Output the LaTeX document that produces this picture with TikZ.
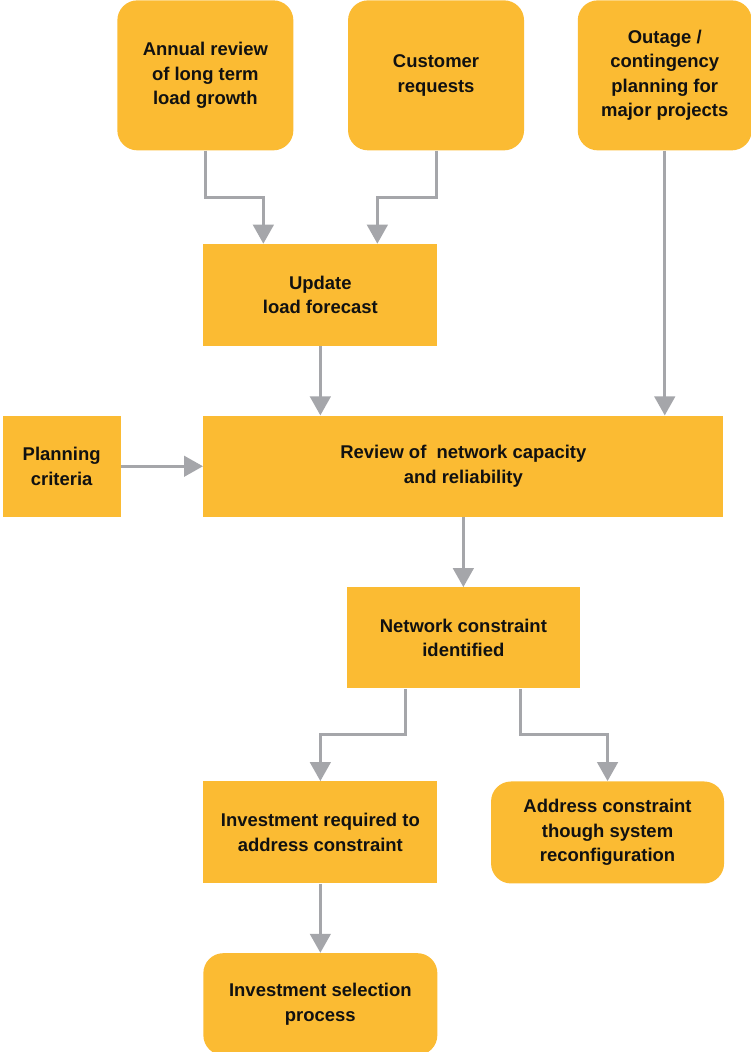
\documentclass[tikz,border=0pt]{standalone}
\usepackage{fontspec}
\setmainfont{Liberation Sans}
\usepackage{tikz}
\usetikzlibrary{arrows.meta,positioning,calc}
\usepackage{xcolor}
\definecolor{boxfill}{HTML}{FBBB33}
\definecolor{flow}{HTML}{A5A6AA}
\definecolor{ink}{HTML}{111111}
\tikzset{
  every node/.style={font=\fontsize{10.5}{13.9}\selectfont\bfseries,text=ink},
  box/.style={fill=boxfill,draw=none,minimum width=46.8mm,minimum height=20.4mm,align=center,inner sep=2pt},
  roundbox/.style={box,rounded corners=4mm},
  srcbox/.style={roundbox,minimum width=35.2mm,minimum height=30mm},
  arrow/.style={-{Triangle[width=4.1mm,length=3.8mm]},line width=0.6mm,draw=flow},
}

\begin{document}
\begin{tikzpicture}[node distance=10mm and 10mm]
\useasboundingbox (0,0) rectangle (150mm,-210.4mm);

% inputs
\node[srcbox,anchor=north west] (annual) at (23.4mm,0) {Annual review\\of long term\\load growth};
\node[srcbox,right=10.8mm of annual] (customer) {Customer\\requests};
\node[srcbox,minimum width=34.8mm,right=10.6mm of customer] (outage) {Outage /\\contingency\\planning for\\major projects};

\node[box,below=18.6mm of annual.south west,anchor=north west,xshift=17.2mm] (update) {Update\\load forecast};
\node[box,minimum width=104mm,minimum height=20.2mm,below=13.8mm of update.south west,anchor=north west] (review) {Review of ~network capacity\\and reliability};
\node[box,minimum width=23.6mm,minimum height=20.2mm,left=16.4mm of review] (criteria) {Planning\\criteria};

% outcomes
\node[box,minimum width=46.6mm,minimum height=20.2mm,below=14mm of review] (constraint) {Network constraint\\identified};
\node[box,below=52.8mm of review.south west,anchor=north west] (invest) {Investment required to\\address constraint};
\node[roundbox,minimum width=46.6mm,right=10.6mm of invest] (reconfig) {Address constraint\\though system\\reconfiguration};
\node[roundbox,below=13.8mm of invest] (select) {Investment selection\\process};

\draw[arrow] (annual.south) -- ++(0,-9.4mm) -| ([xshift=-11.4mm]update.north);
\draw[arrow] (customer.south) -- ++(0,-9.4mm) -| ([xshift=11.4mm]update.north);
\draw[arrow] (outage.south) -- (outage.south |- review.north);
\draw[arrow] (update.south) -- (review.north -| update.south);
\draw[arrow] (criteria.east) -- (review.west);
\draw[arrow] (review.south) -- (constraint.north);
\draw[arrow] ([xshift=-11.6mm]constraint.south) -- ++(0,-9.2mm) -| (invest.north);
\draw[arrow] ([xshift=11.4mm]constraint.south) -- ++(0,-9.2mm) -| (reconfig.north);
\draw[arrow] (invest.south) -- (select.north);

\end{tikzpicture}
\end{document}
